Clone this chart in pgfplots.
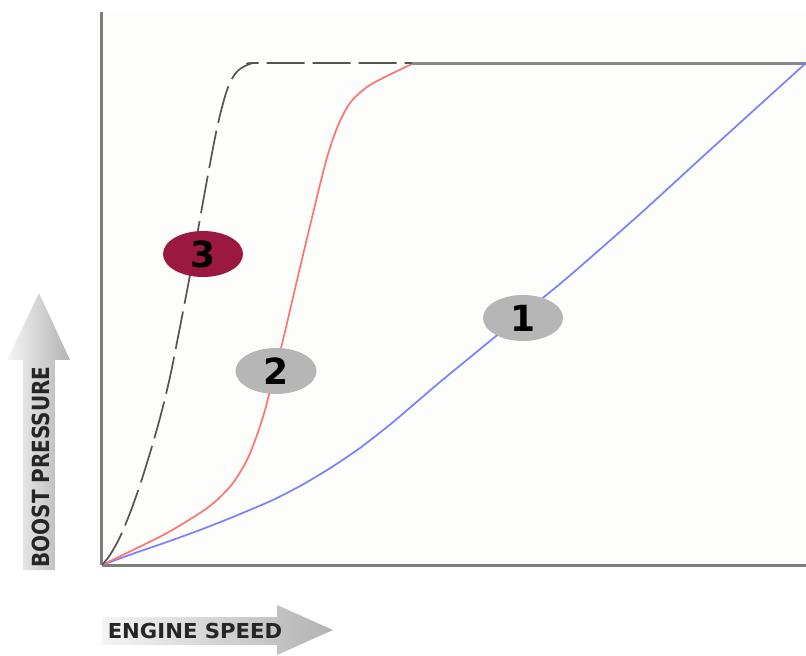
\documentclass[border=0pt]{standalone}
\usepackage{fontspec}
\setmainfont{DejaVu Sans}
\usepackage{pgfplots}
\pgfplotsset{compat=1.18}
\usetikzlibrary{shapes.geometric}
\definecolor{bluel}{RGB}{125,125,255}
\definecolor{redl}{RGB}{255,115,115}
\definecolor{dashc}{RGB}{85,85,85}
\definecolor{axisgray}{RGB}{125,125,125}
\definecolor{topgray}{RGB}{135,135,135}
\definecolor{bgc}{RGB}{253,253,252}
\definecolor{ellg}{RGB}{182,182,182}
\definecolor{ellr}{RGB}{155,24,65}
\begin{document}
\begin{tikzpicture}
\begin{axis}[
  x=1pt, y=1pt,
  xmin=0, xmax=704, ymin=0, ymax=553,
  axis lines=left,
  axis line style={draw=axisgray, line width=3pt, -},
  xtick=\empty, ytick=\empty,
  clip=false,
  axis background/.style={fill=bgc},
]
% arrows (label backgrounds)
\shade[left color=gray!8, right color=gray!60]
  (axis cs:-79,-5) -- (axis cs:-79,205) -- (axis cs:-95,205) -- (axis cs:-63,272)
  -- (axis cs:-32,205) -- (axis cs:-47,205) -- (axis cs:-47,-5) -- cycle;
\shade[left color=gray!8, right color=gray!60]
  (axis cs:0,-52) -- (axis cs:175,-52) -- (axis cs:175,-40) -- (axis cs:231,-65)
  -- (axis cs:175,-90) -- (axis cs:175,-80) -- (axis cs:0,-80) -- cycle;
\node[rotate=90, text=black!85, inner sep=0pt] at (axis cs:-61,98)
  {\scalebox{1}[1.18]{\fontsize{20}{20}\selectfont\bfseries BOOST PRESSURE}};
\node[text=black!85, inner sep=0pt] at (axis cs:93,-66)
  {\scalebox{1.06}[1.03]{\fontsize{20}{20}\selectfont\bfseries ENGINE SPEED}};

% max boost line
\addplot[draw=topgray, line width=3pt] coordinates {(310,501) (704,501)};
% curve 1
\addplot[draw=bluel, line width=1.7pt, smooth, tension=0.3] coordinates {
(0,0) (33,12) (65,23) (98,35) (131,48) (171,65) (200,80) (230,98) (258,117) (290,142) (338,183) (388,224) (465,287) (538,351) (608,415) (704,502)};
% curve 2
\addplot[draw=redl, line width=1.7pt, smooth, tension=0.5] coordinates {
(0,0) (33,16) (65,32) (98,52) (115,65) (131,82) (145,105) (155,130) (163,155) (172,190) (181,225) (201,310) (223,400) (235,437) (248,462) (265,478) (285,489) (310,501)};
% curve 3
\addplot[draw=dashc, line width=1.7pt, smooth, tension=0.5, dash pattern=on 38pt off 8pt] coordinates {
(0,0) (8,10) (18,28) (28,52) (38,80) (48,112) (58,147) (68,188) (78,238) (88,290) (96,335) (105,385) (115,437) (124,472) (131,488) (138,496) (148,501) (158,502) (310,502)};

% number labels
\node[ellipse, fill=ellr, minimum width=80pt, minimum height=46pt, inner sep=0pt,
  font=\fontsize{36}{36}\selectfont\bfseries, text=black] at (axis cs:101,311) {3};
\node[ellipse, fill=ellg, minimum width=81pt, minimum height=46pt, inner sep=0pt,
  font=\fontsize{36}{36}\selectfont\bfseries, text=black] at (axis cs:174,194) {2};
\node[ellipse, fill=ellg, minimum width=80pt, minimum height=46pt, inner sep=0pt,
  font=\fontsize{36}{36}\selectfont\bfseries, text=black] at (axis cs:421,247) {1};

\coordinate (bl) at (axis cs:-102,-91);
\coordinate (tr) at (axis cs:704,565);
\end{axis}
\pgfresetboundingbox
\useasboundingbox (bl) rectangle (tr);
\end{tikzpicture}
\end{document}
